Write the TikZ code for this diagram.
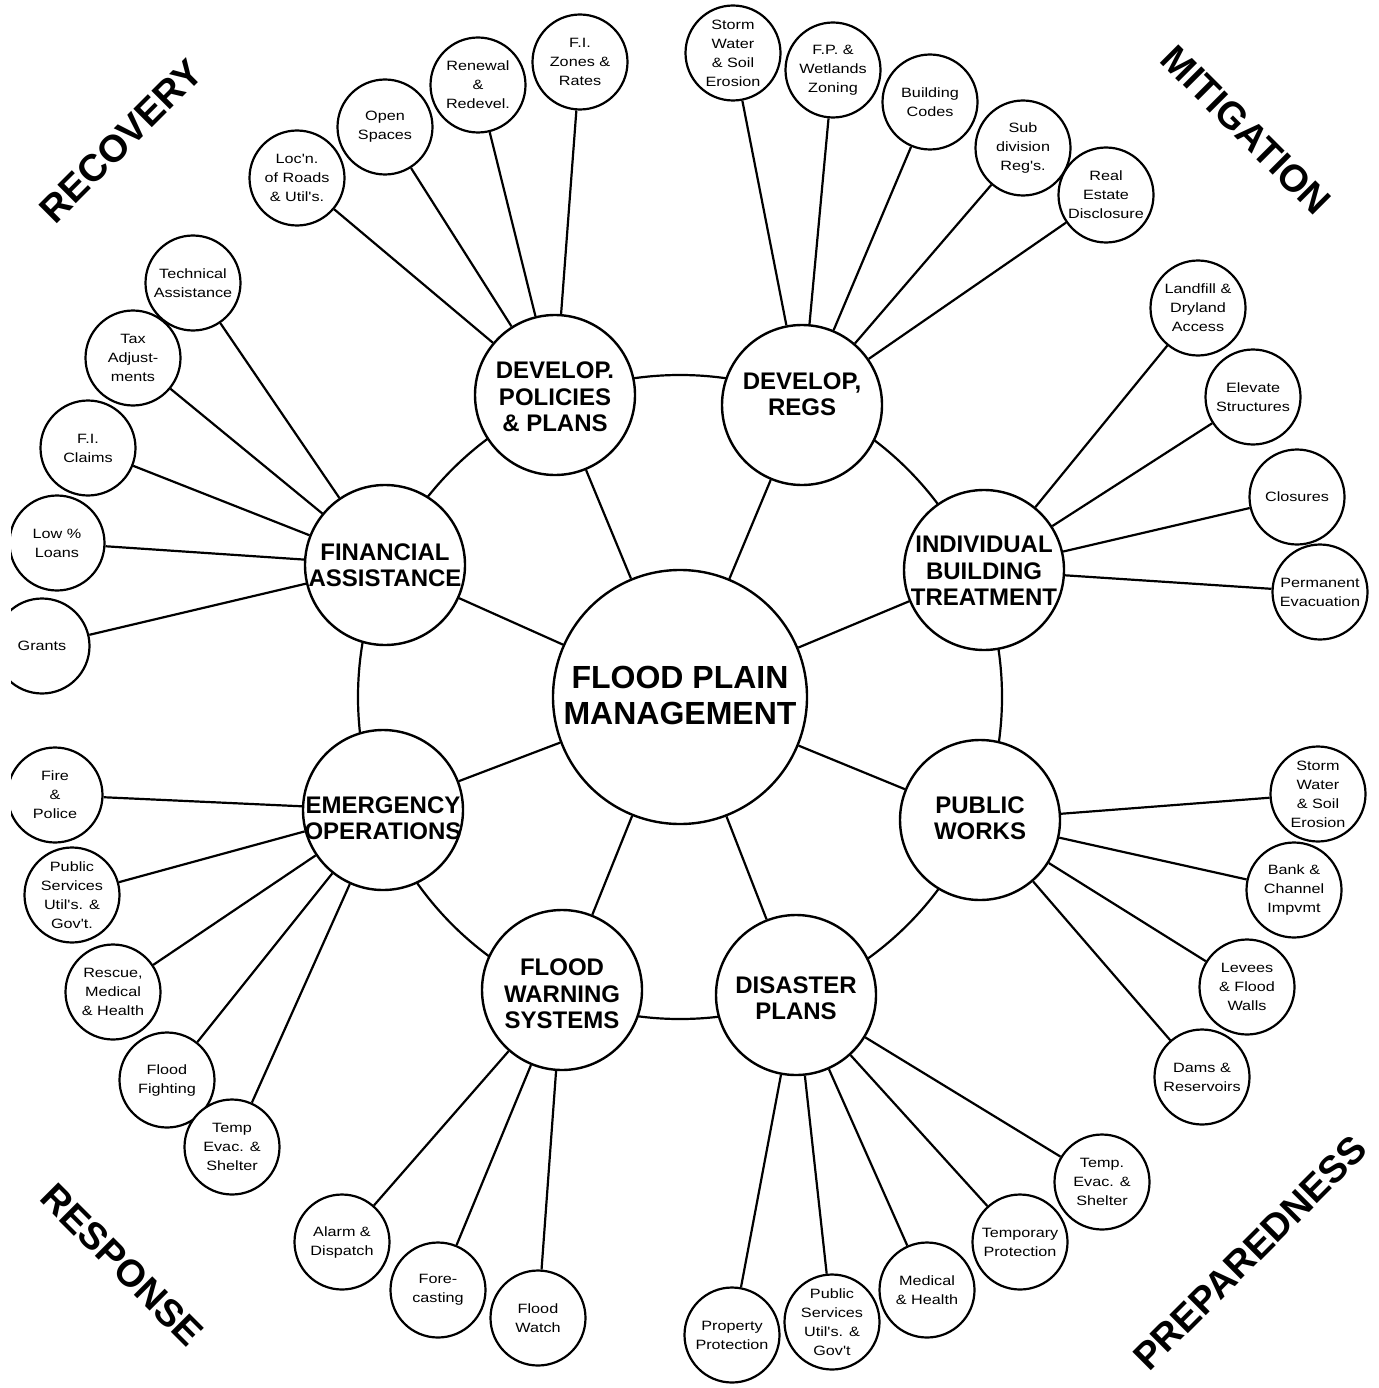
\documentclass[tikz,border=0pt]{standalone}
\usepackage{fontspec}
\setmainfont{Liberation Sans}
\newfontfamily\leaffont[FakeStretch=1.2]{Liberation Sans}
\tikzset{
  hubc/.style={circle, draw, line width=2.4pt, fill=white, minimum size=254pt, inner sep=0pt},
  mainc/.style={circle, draw, line width=2.4pt, fill=white, minimum size=160pt, inner sep=0pt},
  leafc/.style={circle, draw, line width=2.2pt, fill=white, minimum size=95pt, inner sep=0pt},
  hubtext/.style={align=center, inner sep=0pt, font=\fontsize{32}{36}\selectfont\bfseries},
  maintext/.style={align=center, inner sep=0pt, font=\fontsize{24}{26.5}\selectfont\bfseries},
  leaftext/.style={align=center, inner sep=0pt, font=\leaffont\fontsize{13.5}{19}\selectfont},
  link/.style={line width=2.2pt},
  corner/.style={inner sep=0pt, font=\fontsize{38}{40}\selectfont\bfseries}
}
\newcommand\leafnode[4]{%
  \node[leafc] (#1) at (#2) {};
  \node[leaftext] (#1t) at (#1) {#3};
  \draw[link] (#1) -- (#4);
}
\begin{document}
\begin{tikzpicture}[x=1pt,y=-1pt]
\useasboundingbox (0,0) rectangle (1378,1388);
\begin{scope}
\clip (11,0) rectangle (1378,1388);

% hub
\node[hubc] (hub) at (680,697) {};
\node[hubtext] (hubt) at (680,695) {FLOOD PLAIN\\MANAGEMENT};

% ring joining the main circles
\draw[link] (hub.center) circle[radius=322pt];

% main circles
\node[mainc] (dp)  at (555,395) {};
\node[mainc] (dr)  at (802,405) {};
\node[mainc] (ibt) at (984,570) {};
\node[mainc] (pw)  at (980,820) {};
\node[mainc] (dis) at (796,995) {};
\node[mainc] (fws) at (562,990) {};
\node[mainc] (eo)  at (383,810) {};
\node[mainc] (fa)  at (385,565) {};

\node[maintext] (dpt)  at (555,397) {DEVELOP.\\POLICIES\\\& PLANS};
\node[maintext] (drt)  at (802,394) {DEVELOP,\\REGS};
\node[maintext] (ibtt) at (984,571) {INDIVIDUAL\\BUILDING\\TREATMENT};
\node[maintext] (pwt)  at (980,818) {PUBLIC\\WORKS};
\node[maintext] (dist) at (796,998) {DISASTER\\PLANS};
\node[maintext] (fwst) at (562,994) {FLOOD\\WARNING\\SYSTEMS};
\node[maintext] (eot)  at (383,818) {EMERGENCY\\OPERATIONS};
\node[maintext] (fat)  at (385,565) {FINANCIAL\\ASSISTANCE};

% spokes
\foreach \m in {dp,dr,ibt,pw,dis,fws,eo,fa} \draw[link] (hub) -- (\m);

% develop policies & plans
\leafnode{lr}{297,178}{Loc'n.\\of Roads\\\& Util's.}{dp}
\leafnode{os}{385,127}{Open\\Spaces}{dp}
\leafnode{rr}{478,85}{Renewal\\\&\\Redevel.}{dp}
\leafnode{fz}{580,62}{F.I.\\Zones \&\\Rates}{dp}

% develop regs
\leafnode{swa}{733,53}{Storm\\Water\\\& Soil\\Erosion}{dr}
\leafnode{fpw}{833,70}{F.P. \&\\Wetlands\\Zoning}{dr}
\leafnode{bc}{930,102}{Building\\Codes}{dr}
\leafnode{sd}{1023,148}{Sub\\division\\Reg's.}{dr}
\leafnode{re}{1106,195}{Real\\Estate\\Disclosure}{dr}

% individual building treatment
\leafnode{lf}{1198,308}{Landfill \&\\Dryland\\Access}{ibt}
\leafnode{es}{1253,397}{Elevate\\Structures}{ibt}
\leafnode{cl}{1297,497}{Closures}{ibt}
\leafnode{pe}{1320,592}{Permanent\\Evacuation}{ibt}

% public works
\leafnode{swb}{1318,794}{Storm\\Water\\\& Soil\\Erosion}{pw}
\leafnode{bk}{1294,890}{Bank \&\\Channel\\Impvmt}{pw}
\leafnode{lv}{1247,987}{Levees\\\& Flood\\Walls}{pw}
\leafnode{dm}{1202,1077}{Dams \&\\Reservoirs}{pw}

% disaster plans
\leafnode{tes}{1102,1182}{Temp.\\Evac. \&\\Shelter}{dis}
\leafnode{tp}{1020,1242}{Temporary\\Protection}{dis}
\leafnode{mh}{927,1290}{Medical\\\& Health}{dis}
\leafnode{psb}{832,1322}{Public\\Services\\Util's. \&\\Gov't}{dis}
\leafnode{pp}{732,1335}{Property\\Protection}{dis}

% flood warning systems
\leafnode{ad}{342,1242}{Alarm \&\\Dispatch}{fws}
\leafnode{fc}{438,1290}{Fore-\\casting}{fws}
\leafnode{fwt}{538,1318}{Flood\\Watch}{fws}

% emergency operations
\leafnode{fp}{55,795}{Fire\\\&\\Police}{eo}
\leafnode{psa}{72,895}{Public\\Services\\Util's. \&\\Gov't.}{eo}
\leafnode{rm}{113,992}{Rescue,\\Medical\\\& Health}{eo}
\leafnode{ff}{167,1080}{Flood\\Fighting}{eo}
\leafnode{teb}{232,1147}{Temp\\Evac. \&\\Shelter}{eo}

% financial assistance
\leafnode{ta}{193,283}{Technical\\Assistance}{fa}
\leafnode{tx}{133,358}{Tax\\Adjust-\\ments}{fa}
\leafnode{fic}{88,448}{F.I.\\Claims}{fa}
\leafnode{ll}{57,543}{Low \%\\Loans}{fa}
\leafnode{gr}{42,646}{Grants}{fa}

% corner labels
\node[corner, rotate=45]  (rec)  at (121,141) {RECOVERY};
\node[corner, rotate=-45] (mit)  at (1246,130) {MITIGATION};
\node[corner, rotate=-45] (resp) at (122,1265) {RESPONSE};
\node[corner, rotate=45]  (prep) at (1250,1253) {PREPAREDNESS};
\end{scope}
\end{tikzpicture}
\end{document}
